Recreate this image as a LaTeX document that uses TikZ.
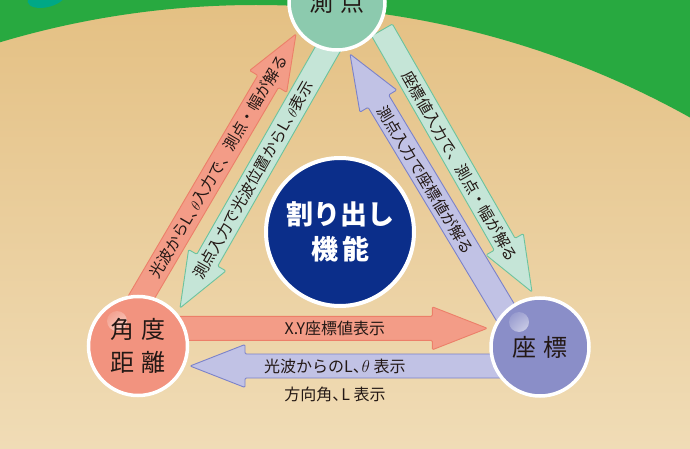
\documentclass[tikz,border=0pt]{standalone}
\usepackage{fontspec}
\setmainfont{Noto Sans CJK JP}
\usetikzlibrary{calc}
\definecolor{bggreen}{HTML}{28A940}
\definecolor{blobteal}{HTML}{00A886}
\definecolor{tantop}{HTML}{E4C083}
\definecolor{tanbot}{HTML}{F0DCB6}
\definecolor{spfill}{HTML}{8CCAAE}
\definecolor{kdfill}{HTML}{F2937F}
\definecolor{zhfill}{HTML}{8A8EC8}
\definecolor{navy}{HTML}{0B2E8A}
\definecolor{pinkA}{HTML}{F39C87}
\definecolor{pinkS}{HTML}{EC7F69}
\definecolor{greenA}{HTML}{C5E5D7}
\definecolor{greenS}{HTML}{6CC39E}
\definecolor{purpA}{HTML}{C1C2E5}
\definecolor{purpS}{HTML}{7B82CA}
\definecolor{ink}{HTML}{231815}
\newcommand\tc{\makebox[0.55em][l]{、}}
\newcommand\barrow[3]{%
  \coordinate (#1#2h) at ($(#2)!55pt!(#1)$);
  \filldraw[#3] ($(#1)!12pt!90:(#2)$) -- ($(#1#2h)!12pt!90:(#2)$) -- ($(#1#2h)!21.5pt!90:(#2)$)
    -- (#2) -- ($(#1#2h)!21.5pt!-90:(#2)$) -- ($(#1#2h)!12pt!-90:(#2)$) -- ($(#1)!12pt!-90:(#2)$) -- cycle;}
\tikzset{
  blk/.style={line width=0.9pt, line join=round, rounded corners=1.2pt},
  pinkarrow/.style={blk, fill=pinkA, draw=pinkS},
  greenarrow/.style={blk, fill=greenA, draw=greenS},
  purparrow/.style={blk, fill=purpA, draw=purpS},
  lbl/.style={text=ink, inner sep=0pt, font=\fontsize{15.5}{15.5}\selectfont},
  hlbl/.style={text=ink, inner sep=0pt, font=\fontsize{16}{16}\selectfont},
  circ/.style={circle, draw=white, line width=3.5pt, text=ink, align=center,
    inner sep=0pt, font=\fontsize{24}{33}\selectfont},
  glow/.style={path picture={\shade[inner color=white, outer color=#1]
    ([shift={(-21pt,25pt)}]path picture bounding box.center) circle (10pt);}},
}
\begin{document}
\begin{tikzpicture}[x=1pt, y=-1pt]
\useasboundingbox (0,0) rectangle (690,449);
% background
\fill[top color=tantop, bottom color=tanbot] (0,0) rectangle (690,449);
\begin{scope}
  \clip (0,0) rectangle (690,449);
  \fill[bggreen, even odd rule] (-10,-10) rectangle (700,460) (256,897) circle [radius=892pt];
  \fill[blobteal, rotate around={15:(47,-3)}] (47,-3) ellipse [x radius=20pt, y radius=10pt];
\end{scope}
% arrow end points
\coordinate (p1s) at (128,320); \coordinate (p1e) at (296,34);
\coordinate (g1s) at (333,40);  \coordinate (g1e) at (180,308);
\coordinate (g2s) at (382,30);  \coordinate (g2e) at (532,292);
\coordinate (u1s) at (516,330); \coordinate (u1e) at (350,54);
\coordinate (p2s) at (165,328.3); \coordinate (p2e) at (487.3,328.3);
\coordinate (u2s) at (515,366); \coordinate (u2e) at (190,366);
\barrow{p1s}{p1e}{pinkarrow}
\barrow{g1s}{g1e}{greenarrow}
\barrow{g2s}{g2e}{greenarrow}
\barrow{u1s}{u1e}{purparrow}
\barrow{p2s}{p2e}{pinkarrow}
\barrow{u2s}{u2e}{purparrow}
% nodes
\node[circ, fill=spfill, minimum size=96pt] (sp) at (337,2) {測\hspace{7pt}点};
\node[circ, fill=kdfill, minimum size=99pt, glow=kdfill] (kd) at (138,346) {角\hspace{7pt}度\\距\hspace{7pt}離};
\node[circ, fill=zhfill, minimum size=98pt, glow=zhfill] (zh) at (540,347) {座\hspace{7pt}標};
\node[circle, draw=white, line width=4pt, fill=navy, minimum size=148pt, inner sep=0pt,
  text=white, align=center, font=\bfseries\fontsize{27}{35}\selectfont] (fn) at (340,232)
  {割り出し\\機\hspace{4pt}能};
% labels
\path (p1s) -- (p1e) node[lbl, sloped, pos=0.536] (t1) {光波からL\tc$\theta$入力で、測点・幅が解る};
\path (g1s) -- (g1e) node[lbl, sloped, pos=0.523] (t2) {測点入力で光波位置からL\tc$\theta$表示};
\path (g2s) -- (g2e) node[lbl, sloped, pos=0.52] (t3) {座標値入力で、測点・幅が解る};
\path (u1s) -- (u1e) node[lbl, sloped, pos=0.543] (t4) {測点入力で座標値が解る};
\path (p2s) -- (p2e) node[hlbl, pos=0.527] (t5) {X.Y座標値表示};
\path (u2s) -- (u2e) node[hlbl, pos=0.554] (t6) {光波からのL\tc$\theta$ 表示};
\node[hlbl] (t7) at (335,394) {方向角\tc L 表示};
\end{tikzpicture}
\end{document}
